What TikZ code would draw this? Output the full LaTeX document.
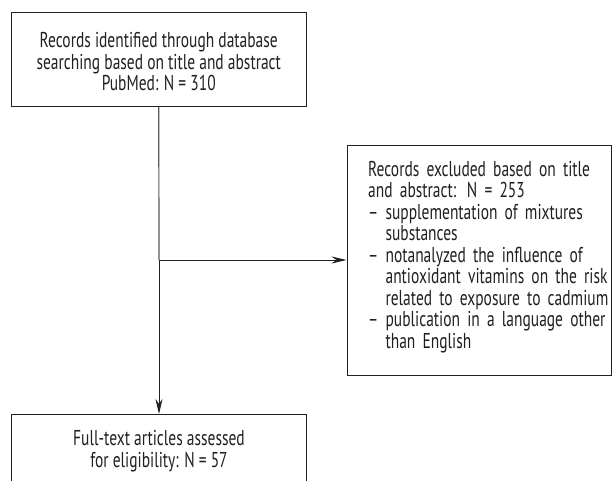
\documentclass[tikz,border=0pt]{standalone}
\usepackage{fontspec}
\setmainfont[FakeStretch=0.72]{PT Sans}
\usetikzlibrary{arrows.meta}
\definecolor{ink}{HTML}{231F20}
\tikzset{
  box/.style={draw=ink, line width=1pt, rectangle, inner sep=0pt},
  txt/.style={text=ink, font=\fontsize{21.5}{21.5}\selectfont, inner sep=0pt},
  conn/.style={draw=ink!75, line width=1.2pt},
  arr/.style={draw=ink, line width=1pt, -{Stealth[length=15pt,width=7pt]}}
}
\begin{document}
\begin{tikzpicture}[x=1pt,y=1pt]
\useasboundingbox (0,0) rectangle (613,-480);
\node[box, minimum width=294.5pt, minimum height=94.5pt] (top) at (158.75,-59.25) {};
\node[txt, align=center] (toptext) at (158.75,-62) {Records identified through database\\searching based on title and abstract\\PubMed: N = 310};
\node[box, minimum width=264.5pt, minimum height=230pt] (excl) at (479.25,-260) {};
\node[txt, align=left, anchor=west, text width=245pt] (excltext) at (368,-257) {Records excluded based on title\\and abstract: N = 253\\– supplementation of mixtures\\\phantom{– }substances\\– notanalyzed the influence of\\\phantom{– }antioxidant vitamins on the risk\\\phantom{– }related to exposure to cadmium\\– publication in a language other\\\phantom{– }than English};
\node[box, minimum width=295pt, minimum height=90pt, anchor=north] (full) at (159,-414) {};
\node[txt, align=center] (fulltext) at (159,-451) {Full-text articles assessed\\for eligibility: N = 57};
\coordinate (branch) at (159,-260);
\draw[conn] (top.south) -- (branch);
\draw[arr] (branch) -- (excl.west);
\draw[arr] (branch) -- (full.north);
\end{tikzpicture}
\end{document}
